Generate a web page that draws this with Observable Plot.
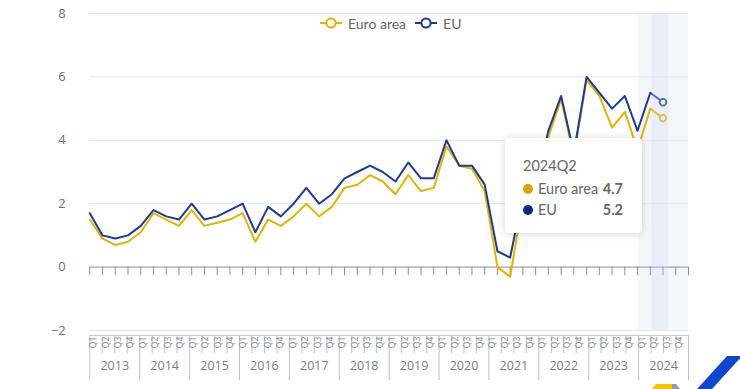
<!DOCTYPE html>
<html>
<head>
<meta charset="utf-8">
<script src="https://cdn.jsdelivr.net/npm/d3@7"></script>
<script src="https://cdn.jsdelivr.net/npm/@observablehq/plot@0.6"></script>
<style>
  html, body { margin: 0; padding: 0; background: #fff; }
  #wrap { position: relative; width: 740px; height: 389px; overflow: hidden; font-family: "Open Sans", "Noto Sans", sans-serif; }
  #chart { position: absolute; left: 0; top: 0; }
  .legend { position: absolute; top: 13px; left: 320px; display: flex; align-items: center; font-family: Lato, "Open Sans", sans-serif; font-size: 14px; color: #666; }
  .legend .item { display: flex; align-items: center; margin-right: 9px; }
  .legend svg { margin-right: 6px; }
  .tip { position: absolute; left: 505px; top: 138px; width: 137px; height: 95px; box-sizing: border-box;
         background: #fff; border-radius: 4px; box-shadow: 0 1px 8px rgba(0,0,0,0.16); padding: 14px 19px 0 18px;
         font-family: Lato, "Open Sans", sans-serif; font-size: 14.5px; color: #666; }
  .tip .head { line-height: 20px; margin-top: 4px; margin-bottom: 2px; }
  .tip .row { display: flex; align-items: center; line-height: 21px; }
  .tip .dot { width: 10px; height: 10px; border-radius: 50%; margin-right: 5px; }
  .tip .name { flex: 1; }
  .tip .val { font-weight: bold; }
  .logo { position: absolute; left: 640px; top: 350px; }
</style>
</head>
<body>
<div id="wrap"><div id="chart"></div></div>
<script>
// ---- data ----
const years = ["2013","2014","2015","2016","2017","2018","2019","2020","2021","2022","2023","2024"];
const quarterNames = ["Q1","Q2","Q3","Q4"];
const seriesNames = ["Euro area", "EU"];
const seriesColors = ["#E2B300", "#1D3C91"];
const tooltipDotColors = ["#D1A700", "#0F2B78"];
const euroArea = [
  1.5, 0.9, 0.7, 0.8,
  1.1, 1.7, 1.5, 1.3,
  1.8, 1.3, 1.4, 1.5,
  1.7, 0.8, 1.5, 1.3,
  1.6, 2.0, 1.6, 1.9,
  2.5, 2.6, 2.9, 2.7,
  2.3, 2.9, 2.4, 2.5,
  3.8, 3.2, 3.1, 2.4,
  0.0, -0.3, 2.1, 2.1,
  4.1, 5.3, 3.5, 5.9,
  5.4, 4.4, 4.9, 3.7,
  5.0, 4.7
];
const eu = [
  1.7, 1.0, 0.9, 1.0,
  1.3, 1.8, 1.6, 1.5,
  2.0, 1.5, 1.6, 1.8,
  2.0, 1.1, 1.9, 1.6,
  2.0, 2.5, 2.0, 2.3,
  2.8, 3.0, 3.2, 3.0,
  2.7, 3.3, 2.8, 2.8,
  4.0, 3.2, 3.2, 2.6,
  0.5, 0.3, 2.3, 2.6,
  4.3, 5.4, 3.6, 6.0,
  5.5, 5.0, 5.4, 4.3,
  5.5, 5.2
];
const yTicks = [-2, 0, 2, 4, 6, 8];
const highlightYear = "2024";
const hoverPeriod = "2024Q2";

// ---- build tables ----
const periods = years.flatMap(y => quarterNames.map(q => y + q));
const n = periods.length;
const idx = d3.range(n);
const rows = [];
[euroArea, eu].forEach((vals, s) => {
  vals.forEach((v, i) => rows.push({ series: seriesNames[s], i, period: periods[i], value: v }));
});
const hoverIndex = periods.indexOf(hoverPeriod);

// bottom category axis: n equal bands spread over the same frame (index units)
const bandW = (n - 1) / n;
const quarterCells = periods.map((p, k) => ({ k, q: p.slice(4), center: (k + 0.5) * bandW }));
const bandEdges = d3.range(n + 1).map(k => ({ k, x: k * bandW, year: k % 4 === 0 }));
const yearCells = years.map((y, j) => ({ y, center: (j * 4 + 2) * bandW }));
const hy = years.indexOf(highlightYear);

// pixel helper for axis furniture below the frame
const H = 389, mTop = 13, mBottom = 59;
const pxPerUnit = (H - mTop - mBottom) / 10;
const yBelow = px => -2 - px / pxPerUnit; // px below the -2 line

const chart = Plot.plot({
  width: 740,
  height: H,
  marginLeft: 89.3,
  marginRight: 52,
  marginTop: mTop,
  marginBottom: mBottom,
  style: { fontFamily: "'Open Sans', 'Noto Sans', sans-serif", color: "#6E7079", background: "transparent", overflow: "visible" },
  x: { type: "linear", domain: [0, n - 1], axis: null },
  y: { domain: [-2, 8], axis: null },
  color: { domain: seriesNames, range: seriesColors },
  marks: [
    // highlighted year band
    Plot.rect([hy], { x1: d => d * 4 * bandW, x2: d => (d * 4 + 4) * bandW, y1: -2, y2: 8, fill: "#F4F6FC" }),
    // grid
    Plot.ruleY(yTicks.filter(t => t !== 0), { stroke: "#E0E6F1", strokeWidth: 1 }),
    Plot.axisY({ ticks: yTicks, tickSize: 0, tickPadding: 24, fontSize: 13, label: null, fill: "#6E7079" }),
    // zero axis line + ticks
    Plot.ruleY([0], { stroke: "#8A8E99", strokeWidth: 1 }),
    Plot.ruleX(idx, { x: d => d, y1: 0, y2: -8.5 / pxPerUnit, stroke: "#8A8E99", strokeWidth: 1 }),
    // bottom category box
    Plot.ruleY([yBelow(5)], { stroke: "#C9CCD3", strokeWidth: 1 }),
    Plot.ruleX(bandEdges, { x: "x", y1: yBelow(5), y2: d => d.year ? yBelow(50) : yBelow(23), stroke: "#BDBFC5", strokeWidth: 1 }),
    Plot.text(quarterCells, { x: "center", text: "q", frameAnchor: "bottom", dy: 12, rotate: -90, fontSize: 8.5, fill: "#80838B" }),
    Plot.text(yearCells, { x: "center", text: "y", frameAnchor: "bottom", dy: 39.5, fontSize: 12.5, fill: "#7A7D85" }),
    // series
    Plot.line(rows, { x: "i", y: "value", stroke: "series", z: "series", strokeWidth: 2, curve: "linear" }),
    Plot.dot(rows.filter(d => d.i === hoverIndex), { x: "i", y: "value", stroke: "series", fill: "white", r: 3.3, strokeWidth: 1.8 }),
    // hover pointer shadow
    Plot.rect([hoverIndex], { x1: d => d - 0.87, x2: d => d + 0.45, y1: -2, y2: 8, fill: "#D2DBF1", fillOpacity: 0.3 })
  ]
});
document.getElementById("chart").appendChild(chart);

// ---- legend ----
const wrap = document.getElementById("wrap");
const legend = document.createElement("div");
legend.className = "legend";
seriesNames.forEach((name, s) => {
  const item = document.createElement("div");
  item.className = "item";
  item.innerHTML = `<svg width="22" height="20"><line x1="0" y1="10" x2="22" y2="10" stroke="${seriesColors[s]}" stroke-width="2"/>` +
    `<circle cx="11" cy="10" r="4.6" fill="white" stroke="${seriesColors[s]}" stroke-width="2"/></svg><span>${name}</span>`;
  legend.appendChild(item);
});
wrap.appendChild(legend);

// ---- tooltip ----
const tip = document.createElement("div");
tip.className = "tip";
const hoverVals = [euroArea[hoverIndex], eu[hoverIndex]];
tip.innerHTML = `<div class="head">${hoverPeriod}</div>` + seriesNames.map((name, s) =>
  `<div class="row"><span class="dot" style="background:${tooltipDotColors[s]}"></span><span class="name">${name}</span><span class="val">${hoverVals[s].toFixed(1)}</span></div>`).join("");
wrap.appendChild(tip);

// ---- decorative logo fragment ----
const logo = document.createElement("div");
logo.className = "logo";
logo.innerHTML = `<svg width="100" height="39"><polygon points="57,39 87,6 102,6 72,39" fill="#0E47CB"/>` +
  `<polygon points="12,39 16,34 32,34 32,39" fill="#F5C400"/><polygon points="32,34 36,34 40,39 32,39" fill="#9A9A9A"/></svg>`;
wrap.appendChild(logo);
</script>
</body>
</html>
